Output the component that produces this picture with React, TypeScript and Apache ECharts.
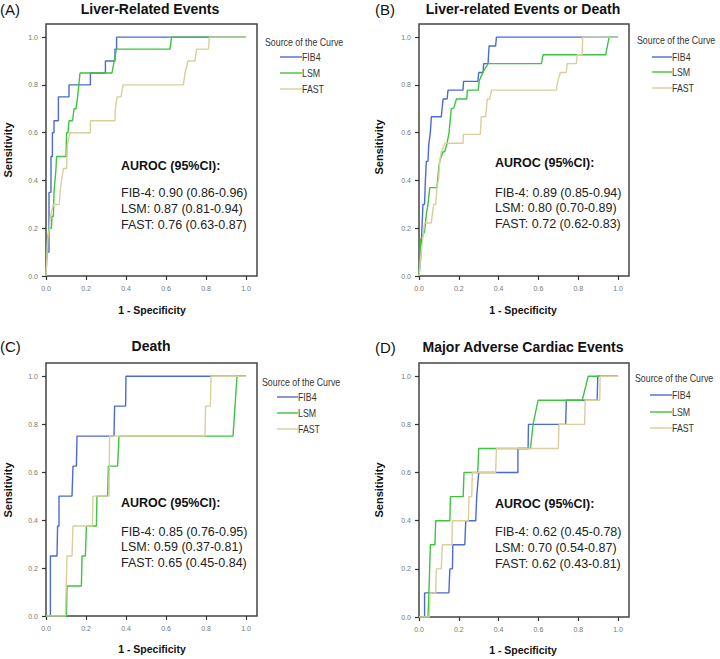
import React, { useEffect, useRef } from 'react';
import * as echarts from 'echarts';

type Pt = [number, number];

const axisTicks = [0, 0.2, 0.4, 0.6, 0.8, 1.0];
const curveNames = ['FIB4', 'LSM', 'FAST'];
const curveColors = ['#4d6ad2', '#3ec43e', '#d8cf9c'];
const panelLabels = ['(A)', '(B)', '(C)', '(D)'];
const panelTitles = ['Liver-Related Events', 'Liver-related Events or Death', 'Death', 'Major Adverse Cardiac Events'];
const aurocHeader = 'AUROC (95%CI):';
const aurocA = ['FIB-4: 0.90 (0.86-0.96)', 'LSM: 0.87 (0.81-0.94)', 'FAST: 0.76 (0.63-0.87)'];
const aurocB = ['FIB-4: 0.89 (0.85-0.94)', 'LSM: 0.80 (0.70-0.89)', 'FAST: 0.72 (0.62-0.83)'];
const aurocC = ['FIB-4: 0.85 (0.76-0.95)', 'LSM: 0.59 (0.37-0.81)', 'FAST: 0.65 (0.45-0.84)'];
const aurocD = ['FIB-4: 0.62 (0.45-0.78)', 'LSM: 0.70 (0.54-0.87)', 'FAST: 0.62 (0.43-0.81)'];

const fib4A: Pt[] = [[0,0],[0,0.05],[0.005,0.1],[0.015,0.1],[0.015,0.35],[0.025,0.35],[0.025,0.5],[0.032,0.5],[0.032,0.6],[0.04,0.6],[0.04,0.65],[0.062,0.65],[0.062,0.75],[0.115,0.75],[0.115,0.8],[0.222,0.8],[0.222,0.85],[0.297,0.85],[0.297,0.9],[0.345,0.9],[0.345,0.95],[0.353,0.95],[0.353,1],[1,1]];
const lsmA: Pt[] = [[0,0],[0.008,0.15],[0.015,0.2],[0.027,0.2],[0.03,0.25],[0.037,0.25],[0.04,0.35],[0.045,0.4],[0.05,0.45],[0.053,0.5],[0.1,0.5],[0.103,0.6],[0.11,0.6],[0.115,0.65],[0.133,0.65],[0.14,0.7],[0.15,0.7],[0.158,0.75],[0.17,0.85],[0.33,0.85],[0.352,0.95],[0.62,0.95],[0.628,1],[1,1]];
const fastA: Pt[] = [[0,0],[0.008,0.15],[0.017,0.2],[0.022,0.25],[0.037,0.3],[0.067,0.3],[0.07,0.35],[0.078,0.4],[0.087,0.45],[0.103,0.45],[0.107,0.55],[0.12,0.6],[0.222,0.6],[0.222,0.65],[0.345,0.65],[0.347,0.7],[0.355,0.75],[0.375,0.75],[0.385,0.8],[0.687,0.8],[0.695,0.85],[0.71,0.9],[0.745,0.9],[0.753,0.95],[0.812,0.95],[0.817,1],[1,1]];

const fib4B: Pt[] = [[0,0],[0.008,0.07],[0.012,0.15],[0.02,0.3],[0.028,0.3],[0.032,0.4],[0.037,0.48],[0.045,0.48],[0.049,0.55],[0.057,0.6],[0.062,0.667],[0.112,0.667],[0.116,0.7],[0.121,0.741],[0.141,0.741],[0.146,0.778],[0.221,0.778],[0.224,0.815],[0.296,0.815],[0.3,0.852],[0.322,0.852],[0.325,0.889],[0.347,0.889],[0.352,0.963],[0.385,0.963],[0.389,1],[1,1]];
const lsmB: Pt[] = [[0,0],[0.008,0.15],[0.028,0.185],[0.037,0.26],[0.045,0.3],[0.054,0.37],[0.09,0.37],[0.099,0.45],[0.104,0.48],[0.121,0.52],[0.129,0.52],[0.141,0.556],[0.151,0.6],[0.162,0.7],[0.175,0.704],[0.188,0.741],[0.24,0.741],[0.243,0.778],[0.298,0.778],[0.302,0.815],[0.32,0.852],[0.347,0.889],[0.615,0.889],[0.623,0.926],[0.938,0.926],[0.955,1],[1,1]];
const fastB: Pt[] = [[0,0],[0.012,0.11],[0.028,0.222],[0.062,0.222],[0.067,0.26],[0.074,0.3],[0.084,0.3],[0.09,0.37],[0.099,0.41],[0.104,0.48],[0.112,0.52],[0.13,0.556],[0.222,0.556],[0.222,0.593],[0.308,0.593],[0.313,0.667],[0.335,0.667],[0.343,0.741],[0.355,0.741],[0.365,0.778],[0.69,0.778],[0.697,0.815],[0.71,0.852],[0.74,0.852],[0.745,0.889],[0.79,0.889],[0.795,0.926],[0.82,0.926],[0.822,1],[1,1]];

const fib4C: Pt[] = [[0,0],[0.022,0],[0.022,0.25],[0.055,0.25],[0.058,0.375],[0.065,0.375],[0.065,0.5],[0.13,0.5],[0.135,0.625],[0.152,0.625],[0.155,0.75],[0.34,0.75],[0.343,0.875],[0.398,0.875],[0.4,1],[1,1]];
const lsmC: Pt[] = [[0,0],[0.102,0],[0.105,0.125],[0.177,0.125],[0.18,0.25],[0.197,0.25],[0.202,0.375],[0.252,0.375],[0.255,0.5],[0.308,0.5],[0.312,0.625],[0.358,0.625],[0.365,0.75],[0.935,0.75],[0.955,1],[1,1]];
const fastC: Pt[] = [[0,0],[0.097,0],[0.105,0.25],[0.13,0.25],[0.135,0.375],[0.232,0.375],[0.235,0.5],[0.315,0.5],[0.318,0.75],[0.795,0.75],[0.798,0.875],[0.822,0.875],[0.825,1],[1,1]];

const fib4D: Pt[] = [[0,0],[0.028,0],[0.028,0.1],[0.15,0.1],[0.155,0.2],[0.168,0.2],[0.17,0.3],[0.23,0.3],[0.235,0.4],[0.285,0.4],[0.29,0.5],[0.3,0.6],[0.497,0.6],[0.497,0.7],[0.548,0.7],[0.55,0.8],[0.737,0.8],[0.74,0.9],[0.895,0.9],[0.898,1],[1,1]];
const lsmD: Pt[] = [[0,0],[0.045,0],[0.05,0.1],[0.057,0.3],[0.08,0.3],[0.084,0.4],[0.155,0.4],[0.158,0.5],[0.222,0.5],[0.226,0.6],[0.295,0.6],[0.3,0.7],[0.56,0.7],[0.573,0.8],[0.598,0.9],[0.82,0.9],[0.85,1],[1,1]];
const fastD: Pt[] = [[0,0],[0.052,0],[0.055,0.1],[0.084,0.1],[0.087,0.2],[0.112,0.2],[0.117,0.3],[0.165,0.3],[0.168,0.4],[0.248,0.4],[0.251,0.5],[0.265,0.5],[0.268,0.6],[0.385,0.6],[0.389,0.7],[0.7,0.7],[0.703,0.8],[0.832,0.8],[0.835,0.9],[0.908,0.9],[0.91,1],[1,1]];

const panelCurves = [
  [fib4A, lsmA, fastA],
  [fib4B, lsmB, fastB],
  [fib4C, lsmC, fastC],
  [fib4D, lsmD, fastD],
];
const panelAuroc = [aurocA, aurocB, aurocC, aurocD];

// layout (pixels)
const layout = [
  { left: 46, top: 24, width: 211, height: 252, labelX: 0, labelY: 9, titleX: 150, titleY: 9, sensX: 8, sensY: 150, specX: 152, specY: 310, aucX: 121, aucY: [166, 193, 209, 225], legX: 265, legY: 42, legLine: [280, 302], legRows: [57, 73, 89] },
  { left: 419, top: 24, width: 210, height: 252, labelX: 375, labelY: 9, titleX: 523, titleY: 9, sensX: 379, sensY: 147, specX: 523, specY: 310, aucX: 495, aucY: [163, 193, 208, 224], legX: 637, legY: 40, legLine: [652, 672], legRows: [57, 72, 88] },
  { left: 46, top: 363, width: 211, height: 253, labelX: 0, labelY: 346, titleX: 151, titleY: 346, sensX: 8, sensY: 490, specX: 152, specY: 649, aucX: 121, aucY: [503, 532, 547, 563], legX: 262, legY: 382, legLine: [277, 298], legRows: [397, 413, 429] },
  { left: 419, top: 363, width: 210, height: 254, labelX: 375, labelY: 347, titleX: 523, titleY: 347, sensX: 379, sensY: 490, specX: 523, specY: 650, aucX: 495, aucY: [504, 532, 548, 564], legX: 635, legY: 378, legLine: [650, 672], legRows: [395, 412, 428] },
];

const FONT = "'Liberation Sans', Arial, sans-serif";
const LEG_SCALE = 0.8;

export default function App() {
  const ref = useRef<HTMLDivElement>(null);
  useEffect(() => {
    if (!ref.current) return;
    const chart = echarts.init(ref.current, undefined, { renderer: 'svg' });
    const grids: any[] = [];
    const xAxes: any[] = [];
    const yAxes: any[] = [];
    const series: any[] = [];
    const graphics: any[] = [];
    const axisCommon = (idx: number) => ({
      gridIndex: idx,
      type: 'value',
      min: 0,
      max: 1.055,
      splitLine: { show: false },
      axisLine: { show: false },
      axisTick: { show: true, length: 4, customValues: axisTicks, lineStyle: { color: '#333', width: 1.2 } },
      axisLabel: { customValues: axisTicks, formatter: (v: number) => v.toFixed(1), fontSize: 7, color: '#777', fontFamily: FONT, margin: 9 },
    });
    layout.forEach((L, i) => {
      grids.push({ left: L.left, top: L.top, width: L.width, height: L.height, show: true, borderColor: '#444', borderWidth: 1.5, backgroundColor: '#fff' });
      xAxes.push(axisCommon(i));
      yAxes.push({ ...axisCommon(i), axisLabel: { ...axisCommon(i).axisLabel, margin: 8 } });
      panelCurves[i].forEach((data, k) => {
        series.push({
          type: 'line', name: curveNames[k] + i, xAxisIndex: i, yAxisIndex: i, data,
          showSymbol: false, symbol: 'none', z: 2 + k,
          lineStyle: { color: curveColors[k], width: 1.4 }, itemStyle: { color: curveColors[k] },
        });
      });
      graphics.push({ type: 'text', x: L.labelX, y: L.labelY, style: { text: panelLabels[i], font: `15px ${FONT}`, fill: '#111', verticalAlign: 'middle', align: 'left' } });
      graphics.push({ type: 'text', x: L.titleX, y: L.titleY, style: { text: panelTitles[i], font: `bold 14px ${FONT}`, fill: '#111', verticalAlign: 'middle', align: 'center' } });
      graphics.push({ type: 'text', x: L.sensX, y: L.sensY, rotation: Math.PI / 2, style: { text: 'Sensitivity', font: `bold 11px ${FONT}`, fill: '#111', verticalAlign: 'middle', align: 'center' } });
      graphics.push({ type: 'text', x: L.specX, y: L.specY, style: { text: '1 - Specificity', font: `bold 10.5px ${FONT}`, fill: '#111', verticalAlign: 'middle', align: 'center' } });
      graphics.push({ type: 'text', x: L.aucX, y: L.aucY[0], style: { text: aurocHeader, font: `bold 12.5px ${FONT}`, fill: '#111', verticalAlign: 'middle', align: 'left' } });
      panelAuroc[i].forEach((t, k) => {
        graphics.push({ type: 'text', x: L.aucX, y: L.aucY[k + 1], style: { text: t, font: `12.5px ${FONT}`, fill: '#222', verticalAlign: 'middle', align: 'left' } });
      });
      graphics.push({ type: 'text', x: L.legX, y: L.legY, scaleX: LEG_SCALE, style: { text: 'Source of the Curve', font: `11px ${FONT}`, fill: '#333', verticalAlign: 'middle', align: 'left' } });
      curveNames.forEach((n, k) => {
        graphics.push({ type: 'line', shape: { x1: L.legLine[0], y1: L.legRows[k], x2: L.legLine[1], y2: L.legRows[k] }, style: { stroke: curveColors[k], lineWidth: 1.4 } });
        graphics.push({ type: 'text', x: L.legLine[1], y: L.legRows[k], scaleX: LEG_SCALE, style: { text: n, font: `11px ${FONT}`, fill: '#333', verticalAlign: 'middle', align: 'left' } });
      });
    });
    chart.setOption({
      animation: false,
      backgroundColor: '#fff',
      grid: grids,
      xAxis: xAxes,
      yAxis: yAxes,
      series,
      graphic: graphics,
    });
    return () => chart.dispose();
  }, []);
  return <div ref={ref} style={{ position: 'fixed', left: 0, top: 0, width: 720, height: 659 }} />;
}
